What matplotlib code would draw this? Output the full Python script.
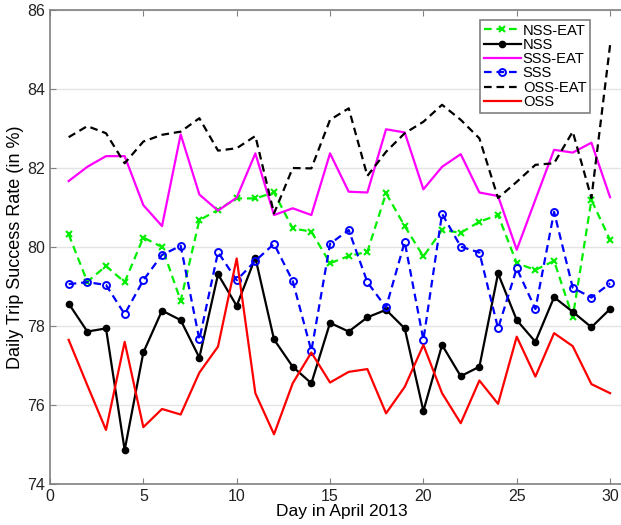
import numpy as np
import matplotlib
matplotlib.use("Agg")
import matplotlib.pyplot as plt

plt.rcParams['font.family'] = ['Liberation Sans', 'DejaVu Sans']
plt.rcParams['lines.scale_dashes'] = False

days = list(range(1, 31))

nss_eat = [80.32, 79.12, 79.52, 79.11, 80.24, 80.00, 78.64, 80.68, 80.94, 81.23,
           81.23, 81.38, 80.47, 80.39, 79.59, 79.77, 79.88, 81.36, 80.53, 79.76,
           80.43, 80.36, 80.64, 80.81, 79.59, 79.42, 79.65, 78.22, 81.19, 80.18]
nss = [78.57, 77.86, 77.94, 74.86, 77.33, 78.39, 78.15, 77.20, 79.31, 78.51,
       79.73, 77.66, 76.97, 76.55, 78.08, 77.86, 78.22, 78.41, 77.94, 75.85,
       77.52, 76.73, 76.97, 79.33, 78.15, 77.60, 78.73, 78.36, 77.97, 78.43]
sss_eat = [81.67, 82.03, 82.30, 82.30, 81.06, 80.53, 82.85, 81.33, 80.92, 81.25,
           82.37, 80.81, 80.98, 80.81, 82.37, 81.40, 81.38, 82.98, 82.90, 81.46,
           82.03, 82.35, 81.38, 81.29, 79.93, 81.20, 82.46, 82.39, 82.64, 81.26]
sss = [79.06, 79.11, 79.04, 78.30, 79.16, 79.80, 80.03, 77.66, 79.87, 79.16,
       79.65, 80.08, 79.14, 77.37, 80.08, 80.43, 79.11, 78.47, 80.13, 77.65,
       80.84, 80.01, 79.86, 77.94, 79.46, 78.43, 80.89, 78.97, 78.72, 79.08]
oss_eat = [82.78, 83.06, 82.88, 82.12, 82.67, 82.84, 82.92, 83.26, 82.44, 82.50,
           82.81, 80.85, 82.00, 81.99, 83.22, 83.51, 81.80, 82.41, 82.88, 83.17,
           83.60, 83.22, 82.75, 81.24, 81.65, 82.08, 82.12, 82.92, 81.24, 85.11]
oss = [77.65, 76.50, 75.37, 77.60, 75.44, 75.90, 75.76, 76.82, 77.48, 79.71,
       76.30, 75.26, 76.55, 77.33, 76.57, 76.84, 76.91, 75.79, 76.46, 77.52,
       76.30, 75.54, 76.62, 76.03, 77.73, 76.72, 77.82, 77.49, 76.53, 76.30]

fig = plt.figure(figsize=(6.21, 5.25), dpi=100)
# axes run a little past the right edge of the figure
ax = fig.add_axes([0.0805, 0.078, 0.941, 0.903])

dash = (5.5, 3.5)
lw = 1.6
ax.plot(days, nss_eat, color='#00ee00', linestyle='--', dashes=dash, lw=lw,
        marker='x', ms=5, mew=1.5, label='NSS-EAT')
ax.plot(days, nss, color='black', linestyle='-', lw=lw,
        marker='o', ms=4.5, label='NSS')
ax.plot(days, sss_eat, color='#ff00ff', linestyle='-', lw=lw, label='SSS-EAT')
ax.plot(days, sss, color='#0000ff', linestyle='--', dashes=dash, lw=lw,
        marker='o', ms=5, mfc='none', mew=1.4, label='SSS')
ax.plot(days, oss_eat, color='black', linestyle='--', dashes=dash, lw=lw,
        label='OSS-EAT')
ax.plot(days, oss, color='#ff0000', linestyle='-', lw=lw, label='OSS')

ax.set_xlim(0, 31.3)
ax.set_ylim(74, 86)
ax.set_xticks([0, 5, 10, 15, 20, 25, 30])
ax.set_yticks([74, 76, 78, 80, 82, 84, 86])
ax.yaxis.grid(True, color='#e4e4e4', lw=1)
ax.set_axisbelow(True)
ax.tick_params(direction='in', top=True, right=True, length=4,
               labelsize=11.5, colors='#808080', labelcolor='#222222')
for sp in ax.spines.values():
    sp.set_color('#808080')
    sp.set_linewidth(1.2)

ax.set_xlabel('Day in April 2013', fontsize=12.5, labelpad=0)
ax.set_ylabel('Daily Trip Success Rate (in %)', fontsize=13, labelpad=2)

leg = ax.legend(loc='upper left', bbox_to_anchor=(0.736, 0.979), fontsize=10.6,
                handlelength=2.5, handletextpad=0.15, labelspacing=0.02,
                borderpad=0.25, borderaxespad=0, fancybox=False, framealpha=1)
leg.get_frame().set_edgecolor('#808080')
leg.get_frame().set_linewidth(1.2)

fig.savefig('out.png', dpi=100)
